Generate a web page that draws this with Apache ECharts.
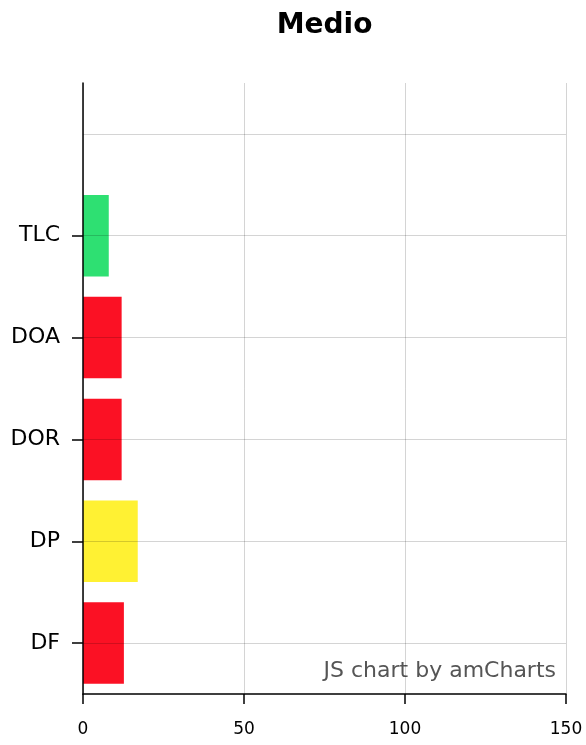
<!DOCTYPE html>
<html lang="en">
<head>
<meta charset="UTF-8">
<title>Medio</title>
<style>
html, body { margin: 0; padding: 0; background: #fff; }
#chart { width: 586px; height: 745px; }
</style>
</head>
<body>
<div id="chart"></div>
<script src="https://cdn.jsdelivr.net/npm/echarts@6/dist/echarts.min.js"></script>
<script>
// data (bottom to top), top row is an empty slot
var categories = ['DF', 'DP', 'DOR', 'DOA', 'TLC', ''];
var values = [12.7, 17, 12, 12, 8, null];
var xTicks = [0, 50, 100, 150];

var barColors = ['#fb1124', '#fff133', '#fb1124', '#fb1124', '#2ee072', '#fff'];
var font = 'DejaVu Sans, Verdana, sans-serif';

var chart = echarts.init(document.getElementById('chart'));

var option = {
  backgroundColor: '#fff',
  animation: false,
  title: {
    text: 'Medio',
    left: 319.5,
    textAlign: 'center',
    top: 7,
    textStyle: { fontFamily: font, fontWeight: 'bold', fontSize: 28, color: '#000' }
  },
  grid: { left: 83, right: 20, top: 83, bottom: 51, containLabel: false },
  xAxis: {
    type: 'value',
    min: xTicks[0],
    max: xTicks[xTicks.length - 1],
    interval: 50,
    axisLine: { show: true, lineStyle: { color: '#000', width: 1.5 } },
    axisTick: { show: true, length: 10, lineStyle: { color: '#000', width: 1.5 } },
    axisLabel: { color: '#000', fontFamily: font, fontSize: 17, margin: 27 },
    splitLine: { show: true, lineStyle: { color: 'rgba(0,0,0,0.17)', width: 1 } }
  },
  yAxis: {
    type: 'category',
    data: categories,
    z: 3,
    axisLine: { show: true, lineStyle: { color: '#000', width: 1.5 } },
    axisTick: {
      show: true, length: 11, alignWithLabel: true,
      interval: function (i, v) { return v !== ''; },
      lineStyle: { color: '#000', width: 1.5 }
    },
    axisLabel: { color: '#000', fontFamily: font, fontSize: 22, margin: 23, padding: [5, 0, 0, 0] },
    splitLine: { show: true, alignWithLabel: true, interval: 0, lineStyle: { color: 'rgba(0,0,0,0.17)', width: 1 } }
  },
  graphic: [{
    type: 'text',
    right: 30,
    top: 660,
    style: { text: 'JS chart by amCharts', fill: '#555', font: '22px ' + font }
  }],
  series: [{
    type: 'bar',
    barCategoryGap: '20%',
    data: values.map(function (v, i) {
      return { value: v, itemStyle: { color: barColors[i] } };
    })
  }]
};

chart.setOption(option);
</script>
</body>
</html>
